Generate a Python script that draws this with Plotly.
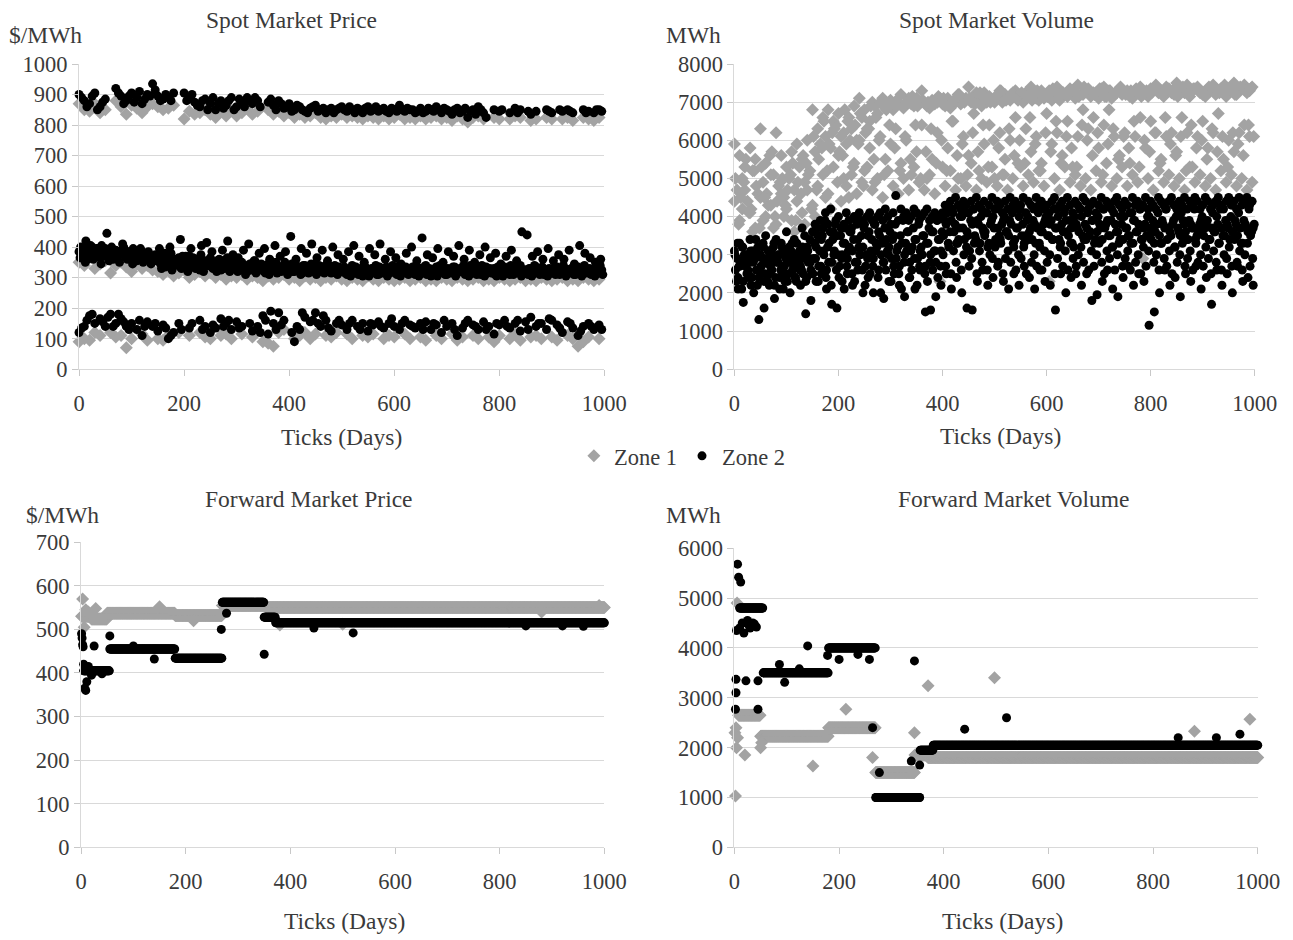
import plotly.graph_objects as go

W, H = 1293, 940
GRAY = "#a3a3a3"
BLACK = "#000000"
FONT = "Liberation Serif, Times New Roman, serif"
TXT = "#3a3a3a"
GRID = "#d9d9d9"

# ---------------- x grids (days) ----------------
X10 = list(range(0, 1000, 10))
X10B = list(range(5, 1000, 10))
X10C = list(range(3, 1000, 10))
X10D = list(range(7, 1000, 10))
X10E = list(range(2, 1000, 10))
X10F = list(range(8, 1000, 10))
X5 = list(range(0, 1000, 5))
X5B = list(range(2, 1000, 5))
X5C = list(range(4, 1000, 5))
X5D = list(range(1, 1000, 5))

# ---------------- Spot market price ----------------
SP_Z2_HIGH = [900, 880, 870, 905, 860, 885, None, 920, 895, 880,
              905, 890, 870, 900, 935, 895, 885, 890, 905, None,
              905, 890, 875, 860, 885, 870, 850, 880, 865, 890,
              860, 875, 890, 870, 880, None, 875, 865, 880, 855,
              870, 850, 860, 845, 855, 865, 850, 840, 855, 850,
              860, 845, 850, 855, 840, 860, 850, 845, 855, 840,
              850, 865, 845, 850, 840, 855, 845, 850, 860, 840,
              850, 835, 855, 845, 825, 850, 860, 840, None, 850,
              845, None, 840, 855, 850, None, 835, 845, None, 850,
              840, None, 845, 850, 840, None, 850, 845, 840, 850]
SP_Z2_HIGH_B = [890, 860, 895, 850, 875, None, None, 905, 870, 895,
                875, 910, 885, 895, 915, 880, 900, 880, None, None,
                880, 900, 865, 880, 850, 890, 870, 855, 880, 850,
                885, 860, 880, 890, 860, None, 885, 850, 870, 860,
                845, 865, 850, 840, 860, 845, 855, 850, 840, 855,
                850, 860, 840, 850, 855, 845, 860, 850, 845, 855,
                845, 850, 855, 850, 845, 840, 855, 845, 850, 855,
                845, 850, 840, 855, 845, 835, 850, 825, None, None,
                850, None, None, 840, None, 845, None, None, None, 845,
                None, 850, None, 845, None, None, 840, None, 850, 845]
SP_Z1_HIGH = [870, 850, 845, 870, 840, 850, None, 880, 860, 835,
              865, 855, 840, 860, 870, 860, 850, 855, 865, None,
              820, 845, 835, 840, 850, 835, 825, 845, 830, 850,
              830, 840, 855, 835, 845, None, 850, 835, 845, 830,
              840, 825, 835, 825, 830, 840, 825, 820, 830, 825,
              835, 825, 830, 825, 820, 830, 825, 820, 830, 820,
              825, 835, 820, 825, 820, 830, 820, 825, 830, 820,
              825, 815, 830, 820, 810, 825, 830, 820, None, 825,
              820, None, 820, 830, 825, None, 815, 820, None, 825,
              820, None, 820, 825, 815, None, 825, 820, 815, 825]
SP_Z2_MID = [385, 370, 395, 360, 380, 400, 375, 390, 365, 385,
             395, 370, 380, 360, 390, 375, 385, 400, 365, 380,
             370, 390, 355, 375, 385, 360, 380, 370, 355, 375,
             360, 345, 370, 335, 355, 380, 340, 350, 365, 330,
             355, 345, 370, 335, 350, 360, 325, 345, 355, 340,
             365, 330, 350, 340, 325, 355, 345, 335, 350, 330,
             340, 325, 350, 330, 320, 345, 335, 355, 325, 340,
             330, 315, 345, 335, 325, 350, 330, 320, 340, 335,
             325, 345, 320, 335, 330, 315, 340, 325, 335, 320,
             345, 330, 320, 335, 325, 340, 315, 330, 325, 335,
             320, 335, 310, 325, 340, 315, 330, 320, 305, 335,
             325, 315, 330, 340, 310, 325, 320, 335, 315, 330,
             325, 310, 340, 320, 330, 315, 325, 335, 310, 320,
             330, 315, 340, 325, 305, 320, 335, 315, 325, 330,
             310, 325, 320, 335, 315, 330, 320, 310, 325, 340,
             315, 320, 330, 310, 325, 335, 320, 315, 330, 305,
             325, 320, 335, 315, 310, 330, 325, 320, 340, 315,
             325, 310, 330, 320, 335, 315, 325, 310, 320, 330,
             315, 325, 335, 310, 320, 330, 315, 325, 320, 310,
             335, 320, 315, 330, 325, 310, 320, 335, 315, 325]
SP_Z2_MID_B = [400, 420, 380, 395, 405, 445, 390, 375, 410, 385,
               395, 360, 380, 370, 365, 395, 380, 400, 350, 425,
               370, 395, 360, 405, 415, 385, 355, 390, 420, 375,
               365, 390, 410, 355, 380, 395, 360, 405, 370, 385,
               435, 360, 395, 380, 410, 365, 390, 355, 400, 375,
               360, 385, 405, 370, 350, 395, 375, 410, 360, 385,
               365, 345, 380, 400, 355, 430, 375, 365, 395, 350,
               385, 370, 405, 360, 390, 350, 375, 400, 365, 380,
               345, 370, 390, 355, 450, 440, 370, 385, 360, 395,
               355, 375, 360, 390, 345, 405, 380, 365, 350, 360]
SP_Z2_MID_C = [365, 390, 350, 380, 405, 360, 375, 395, 345, 370,
               385, 355, 400, 365, 375, 350, 390, 370, 360, 385,
               345, 380, 365, 395, 350, 370, 385, 345, 365, 355,
               375, 330, 355, 365, 340, 325, 360, 345, 335, 370,
               340, 320, 350, 365, 330, 345, 375, 320, 340, 355,
               335, 350, 320, 360, 345, 330, 365, 320, 340, 350,
               320, 345, 330, 310, 340, 325, 350, 315, 335, 345,
               320, 340, 310, 330, 345, 315, 335, 325, 350, 310,
               335, 320, 345, 325, 310, 340, 330, 315, 345, 325,
               310, 340, 335, 315, 345, 320, 330, 340, 310, 320,
               330, 315, 325, 305, 320, 335, 310, 325, 340, 315,
               305, 330, 320, 310, 335, 315, 330, 305, 325, 340,
               315, 330, 305, 320, 335, 310, 325, 315, 340, 305,
               320, 335, 310, 330, 315, 325, 305, 340, 320, 310,
               330, 315, 335, 305, 325, 320, 340, 315, 305, 330,
               325, 310, 320, 340, 305, 315, 330, 325, 310, 335,
               320, 305, 315, 330, 340, 310, 320, 335, 305, 325,
               315, 330, 305, 340, 325, 310, 335, 320, 305, 315,
               330, 310, 320, 325, 340, 305, 315, 330, 310, 320,
               325, 305, 340, 315, 330, 320, 305, 325, 340, 310]
SP_Z1_MID = [350, 340, 365, 330, 345, 355, 315, 340, 350, 335,
             320, 345, 330, 340, 325, 320, 310, 330, 305, 315,
             325, 300, 310, 320, 305, 315, 300, 310, 295, 305,
             300, 310, 295, 305, 300, 290, 305, 295, 300, 310,
             295, 300, 290, 305, 295, 300, 290, 300, 295, 305,
             295, 290, 300, 295, 290, 305, 295, 290, 300, 295,
             290, 295, 300, 290, 295, 300, 290, 295, 290, 300,
             295, 290, 300, 295, 290, 295, 300, 290, 295, 290,
             300, 295, 290, 295, 300, 290, 295, 290, 300, 295,
             290, 295, 300, 290, 295, 290, 300, 295, 290, 295]
SP_Z2_LOW = [120, 140, 175, 150, 165, 140, 180, 150, 165, 140,
             150, 130, 110, 155, 140, 125, 145, 100, 120, 150,
             None, 135, None, 160, 140, 120, 135, 165, 150, 130,
             155, 140, None, 125, 140, 175, 115, 150, 185, 160,
             None, 90, 130, 170, 155, 185, 140, 160, 125, 150,
             145, 130, 160, 140, 150, 125, 145, 155, 135, 150,
             140, 130, 160, 145, 135, 150, 155, 130, 145, 120,
             140, 150, 110, 135, 160, 145, 130, 155, 140, 115,
             145, 160, 135, 150, 125, 155, 170, 140, 150, 130,
             160, 145, 120, 155, 135, 110, 140, 150, 130, 145]
SP_Z2_LOW_B = [135, 160, 180, None, 155, 170, 140, 180, 155, 130,
               None, 160, 140, None, 150, None, 135, 110, None, 130,
               None, 150, None, 130, None, 145, None, 140, 160, None,
               135, None, 150, None, 120, 160, 190, 130, 145, None,
               120, 140, 185, None, 160, 150, 175, 135, None, 160,
               None, 150, None, 130, None, 150, None, 140, None, 165,
               None, 150, None, 140, None, 130, None, 150, None, 160,
               None, 130, None, 150, None, 140, None, 130, None, 150,
               None, 140, None, 160, None, 130, None, 150, None, 165,
               None, 135, None, 150, None, 125, None, 140, None, 130]
SP_Z1_LOW = [90, 100, 95, 120, 110, None, 120, 105, 110, 70,
             100, None, 115, 95, None, 100, 95, 110, None, 120,
             None, 110, None, 120, 105, 100, None, 110, 115, 100,
             None, 115, None, 105, None, 90, 85, 75, 120, 130,
             None, 100, 110, 120, 100, 115, None, 110, 105, 120,
             None, 115, 100, None, 110, 105, 115, None, 100, 110,
             105, None, 115, 100, None, 105, 95, None, 110, 100,
             None, 115, 95, 105, None, 110, 100, None, 105, 90,
             110, None, 100, 115, 95, None, 105, 110, 100, None,
             105, 95, None, 110, 100, 75, 90, 105, None, 100]

# ---------------- Spot market volume ----------------
SV_Z1_A = [5900, 5600, 5300, 5800, 5500, 6300, 5400, 5100, 6200, 5600,
           5300, 5700, 5900, 5500, 6000, 6800, 6300, 6600, 6800, 6500,
           6700, 6200, 6600, 6900, 7100, 6800, 6500, 6900, 7000, 6850,
           7050, 6900, 7200, 7000, 6950, 7100, 7300, 6900, 7050, 7000,
           6950, 7100, 7000, 7200, 7050, 7400, 7100, 7000, 7250, 7150,
           7000, 7300, 7200, 7050, 7300, 7150, 7250, 7400, 7100, 7300,
           7200, 7050, 7400, 7250, 7150, 7300, 7450, 7200, 7350, 7250,
           7100, 7400, 7300, 7200, 7350, 7250, 7150, 7300, 7400, 7250,
           7350, 7450, 7300, 7400, 7250, 7500, 7350, 7450, 7300, 7400,
           7200, 7350, 7450, 7300, 7400, 7250, 7500, 7350, 7450, 7300]
SV_Z1_A2 = [4700, 5000, 4400, 5200, 4600, 4900, 4300, 5100, 4800, 4500,
            5000, 4700, 5300, 4900, 5200, 5700, 5900, 6100, 5800, 6400,
            6100, 5900, 6300, 6000, 6600, 6300, 7000, 6700, 7100, 6900,
            6800, 7000, 6850, 7100, 6900, 6950, 7000, 6850, 6950, 7100,
            6900, 6850, 7000, 6950, 7100, 7000, 7250, 6900, 7000, 7050,
            7150, 7000, 7100, 7250, 7050, 7000, 7150, 7200, 7050, 7100,
            7300, 7150, 7050, 7200, 7350, 7100, 7200, 7300, 7150, 7250,
            7350, 7150, 7100, 7250, 7200, 7300, 7100, 7250, 7200, 7150,
            7300, 7250, 7150, 7350, 7200, 7300, 7250, 7150, 7350, 7250,
            7150, 7300, 7200, 7350, 7150, 7300, 7200, 7350, 7250, 7400]
SV_Z1_B = [4400, 3900, 4700, 4100, 3700, 4500, 4000, 4300, 3800, 4600,
           4200, 3900, 4400, 4100, 4700, 4300, 4800, 5100, 4600, 5300,
           5600, 5000, 4500, 5400, 6000, 5200, 5800, 4900, 6100, 5500,
           5900, 6300, 5400, 6000, 5100, 5700, 6400, 5000, 5500, 6200,
           5300, 5800, 6500, 5000, 6100, 5600, 6700, 5200, 5900, 6400,
           5000, 6200, 5500, 6000, 6600, 5300, 6300, 5700, 6100, 5400,
           6700, 5900, 6200, 5600, 6500, 5300, 6100, 6800, 6300, 6600,
           5800, 6400, 6800, 6100, 5600, 6200, 5400, 6100, 6600, 5800,
           6500, 6200, 5500, 6100, 6200, 5700, 6600, 6200, 5300, 6100,
           6500, 5800, 6200, 6700, 5500, 6000, 5700, 6200, 6400, 6100]
SV_Z1_C = [None, 4200, None, 3600, None, 3900, None, 3700, None, 4000,
           None, 3600, None, 3800, None, 4000, None, 4500, 4200, 2700,
           4400, 4800, 5100, 4600, 4900, 5300, 4700, 5000, 4500, 5200,
           4800, 4600, 5000, 4700, 5300, 4900, 4700, 5100, 4600, 2300,
           4800, 5200, 4700, 5000, 4800, 5400, 4700, 5000, 4900, 5300,
           4800, 5100, 4700, 5000, 5400, 4800, 5100, 4900, 5200, 4800,
           2300, 5000, 4700, 5300, 4900, 5100, 4800, 5000, 4700, 5200,
           4900, 5400, 4800, 5000, 5300, 4800, 5100, 4900, 2900, 5000,
           4700, 5200, 4900, 5100, 4800, 5000, 4700, 5300, 4900, 5100,
           4800, 5000, 4700, 5200, 4900, 5100, 4800, 5000, 4700, 4900]
SV_Z1_D = [5000, 4500, 5500, 4200, 4800, 5300, 4600, 5700, 4400, 5000,
           4700, 5400, 4900, 5600, 5100, 6100, 5500, 6500, 5900, 6300,
           5700, 6800, 6000, 6400, 6700, 6200, 6900, 6600, 7000, 6800,
           6950, 7050, 6900, 7000, 7150, 6900, 7050, 7000, 6950, 7150,
           7100, 6950, 7050, 7200, 7000, 7100, 6950, 7250, 7100, 7000,
           7150, 7300, 7050, 7200, 7100, 7250, 7150, 7050, 7300, 7200,
           7150, 7350, 7100, 7250, 7200, 7300, 7150, 7400, 7250, 7200,
           7350, 7150, 7300, 7250, 7400, 7200, 7300, 7350, 7150, 7300,
           7250, 7400, 7200, 7350, 7300, 7150, 7400, 7250, 7350, 7300,
           7200, 7400, 7300, 7250, 7450, 7350, 7200, 7400, 7300, 7350]
SV_Z1_E = [3800, 4900, 4100, 5200, 3700, 4500, 5600, 4000, 4900, 4300,
           5100, 3900, 4600, 5400, 4200, 4700, 5800, 5200, 6200, 4900,
           5600, 6500, 5300, 5900, 4800, 6300, 5500, 6000, 5100, 6400,
           5800, 5200, 6100, 5500, 6400, 5000, 5700, 6300, 5400, 6000,
           5200, 6500, 5600, 5900, 5100, 6200, 5700, 6400, 5300, 6000,
           5800, 5100, 6300, 5600, 6000, 5400, 6600, 5900, 5200, 6200,
           5700, 6500, 5400, 6100, 5800, 5300, 6400, 6000, 5600, 6200,
           5100, 5900, 6300, 5500, 6100, 5800, 6500, 5300, 6000, 5700,
           6200, 5400, 6600, 5900, 5600, 6100, 5200, 6400, 5800, 6000,
           5500, 6300, 5700, 6100, 5300, 6200, 5900, 5600, 6400, 6100]
SV_Z2_A = [3100, 2900, 3300, 3200, 2800, 3000, 3400, 3100, 2900, 3200,
           3000, 3300, 3500, 3100, 2900, 3200, 3400, 3000, 3300, 3100,
           3600, 3200, 3000, 3400, 3300, 3100, 3700, 3500, 3200, 3400,
           3600, 3800, 3500, 3900, 3700, 4100, 3800, 4200, 3600, 3900,
           4000, 3700, 3800, 4100, 3900, 3700, 4000, 3800, 4100, 3900,
           3800, 4000, 4100, 3900, 3800, 4000, 4100, 3900, 4200, 4000,
           3800, 4100, 4550, 3900, 4200, 4000, 4100, 3900, 4000, 4200,
           4100, 3900, 4000, 4100, 4200, 3900, 4000, 4100, 3900, 4000,
           4100, 4300, 4200, 4400, 4100, 4500, 4300, 4200, 4400, 4300,
           4100, 4400, 4200, 4500, 4300, 4200, 4400, 4100, 4300, 4500,
           4200, 4400, 4300, 4100, 4400, 4200, 4500, 4300, 4400, 4200,
           4300, 4500, 4100, 4400, 4300, 4200, 4500, 4300, 4400, 4200,
           4300, 4100, 4400, 4500, 4200, 4300, 4400, 4200, 4500, 4300,
           4100, 4400, 4300, 4200, 4500, 4400, 4200, 4300, 4400, 4100,
           4300, 4500, 4200, 4400, 4300, 4200, 4400, 4500, 4300, 4200,
           4400, 4300, 4100, 4500, 4300, 4400, 4200, 4300, 4500, 4200,
           4400, 4300, 4200, 4500, 4400, 4300, 4200, 4400, 4500, 4300,
           4200, 4400, 4300, 4500, 4200, 4400, 4300, 4500, 4400, 4200,
           4300, 4500, 4400, 4200, 4300, 4400, 4500, 4300, 4200, 4400,
           4500, 4300, 4400, 4200, 4500, 4300, 4400, 4500, 4300, 4400]
SV_Z2_B = [2600, 2400, 2800, 2300, 2700, 2500, 2200, 2900, 2600, 2400,
           2700, 2300, 2800, 2500, 2600, 2200, 2900, 2400, 2700, 2500,
           2300, 2800, 2600, 2400, 2900, 2700, 2500, 2300, 2800, 2600,
           2900, 3200, 2700, 3400, 3000, 2600, 3300, 2800, 3100, 3500,
           2700, 3000, 3300, 2900, 3600, 3100, 2800, 3400, 3000, 3200,
           2700, 3500, 3100, 2900, 3300, 3600, 3000, 2800, 3400, 3200,
           2900, 3500, 3100, 2700, 3300, 3000, 3600, 2800, 3200, 3400,
           2900, 3100, 3500, 2700, 3300, 3000, 3600, 2800, 3400, 3100,
           3500, 3800, 3200, 3900, 3600, 3300, 3700, 4000, 3400, 3600,
           3100, 3800, 3500, 3900, 3300, 3700, 3600, 3200, 3800, 4000,
           3400, 3700, 3300, 3900, 3600, 3500, 3800, 3200, 3700, 4000,
           3500, 3300, 3900, 3600, 3400, 3800, 3700, 3200, 3600, 3900,
           3500, 3800, 3400, 3700, 4000, 3300, 3600, 3900, 3500, 3700,
           3200, 3800, 3600, 4000, 3400, 3700, 3500, 3900, 3300, 3600,
           3800, 3400, 3700, 3900, 3500, 3200, 3800, 3600, 4000, 3400,
           3700, 3500, 3300, 3900, 3600, 3800, 3400, 3700, 3500, 4000,
           3600, 3300, 3800, 3500, 3900, 3700, 3400, 3600, 3800, 3200,
           3700, 3500, 3900, 3600, 3400, 3800, 3700, 3300, 3600, 3900,
           3500, 3800, 3400, 3700, 3600, 4000, 3300, 3700, 3500, 3800,
           3400, 3600, 3900, 3500, 3700, 3300, 3800, 3600, 3500, 3700]
SV_Z2_C = [2100, 1750, 2400, 2000, 1300, 1600, 2200, 1850, 2100, 2300,
           2000, 2400, 2200, 1450, 1800, 2300, 2500, 2100, 1700, 1600,
           2300, 2500, 2200, 2600, 2000, 2400, 2000, 2600, 1850, 2300,
           2500, 2200, 1900, 2400, 2100, 2600, 1500, 1550, 1900, 2200,
           2500, 2100, 2400, 2000, 1600, 1550, 2300, 2600, 2200, 2400,
           2800, 2300, 2100, 2500, 2200, 2700, 2400, 2100, 2600, 2300,
           2200, 1550, 2500, 2000, 2400, 2700, 2200, 2500, 1800, 1950,
           2300, 2600, 2100, 1900, 2400, 2700, 2200, 2500, 2300, 1150,
           1500, 2000, 2600, 2200, 2400, 1900, 2500, 2300, 2700, 2100,
           2400, 1700, 2600, 2200, 2500, 2000, 2700, 2300, 2400, 2200]
SV_Z2_D = [2300, 2700, 2100, 3000, 2500, 2800, 2400, 3100, 2200, 2600,
           2900, 2500, 2300, 2700, 3000, 2400, 2800, 2600, 2100, 2900,
           2500, 3100, 2700, 2300, 2800, 2600, 3000, 2400, 2900, 2500,
           3300, 3700, 3100, 3500, 3900, 3200, 3600, 3400, 3800, 3000,
           3500, 3300, 3700, 3100, 3600, 3400, 3900, 3200, 3500, 3700,
           3000, 3600, 3400, 3800, 3200, 3500, 3300, 3700, 3100, 3600,
           3400, 3800, 3200, 3500, 3900, 3300, 3600, 3100, 3700, 3400,
           3800, 3200, 3500, 3300, 3700, 3600, 3100, 3900, 3400, 3600,
           3900, 4100, 3600, 4200, 3800, 3300, 4000, 3700, 4100, 3500,
           3900, 4200, 3400, 3800, 4000, 3600, 4100, 3300, 3900, 3700,
           4200, 3500, 3800, 4000, 3600, 3900, 4100, 3400, 3700, 4200,
           3800, 3500, 4000, 3700, 3900, 3300, 4100, 3600, 3800, 4000,
           3500, 3900, 4200, 3700, 3400, 3800, 4100, 3600, 3900, 3300,
           4000, 3700, 4200, 3500, 3800, 4100, 3600, 3900, 3400, 4000,
           3700, 4200, 3800, 3500, 3900, 4100, 3600, 3300, 3800, 4000,
           3700, 3500, 4100, 3900, 3600, 4200, 3400, 3800, 4000, 3700,
           3900, 3600, 4100, 3300, 3800, 4200, 3700, 3500, 3900, 4000,
           3600, 4100, 3800, 3400, 3900, 3700, 4200, 3500, 3800, 4000,
           3700, 3900, 3400, 4100, 3600, 3800, 4200, 3500, 3900, 3700,
           4000, 3600, 3800, 4100, 3300, 3900, 3700, 4200, 3600, 3800]
SV_Z2_E = [3000, 3300, 2700, 3200, 2900, 2600, 3100, 2800, 3400, 3000,
           2700, 3200, 2900, 3100, 2600, 3300, 2800, 3000, 3200, 2700,
           2900, 3100, 3300, 2800, 3000, 2600, 3200, 2900, 3100, 2800,
           2500, 2900, 2300, 2700, 3100, 2400, 2800, 2200, 3000, 2600,
           2400, 2900, 2100, 2700, 3200, 2500, 2300, 2800, 3000, 2600,
           2200, 2900, 2500, 2700, 3100, 2400, 2000, 2800, 2600, 3000,
           2300, 2700, 2900, 2500, 2100, 2800, 3100, 2400, 2600, 2900,
           2200, 2700, 3000, 2500, 2300, 2800, 2600, 3100, 2400, 2700,
           3000, 2700, 3300, 2500, 3100, 2800, 3400, 2600, 3000, 3200,
           2700, 2900, 3300, 2500, 3100, 2800, 3500, 2600, 3000, 2900,
           3200, 2700, 3400, 2500, 2900, 3100, 2800, 3300, 2600, 3000,
           2900, 3200, 2500, 3400, 2800, 3000, 2700, 3300, 2600, 3100,
           2800, 3000, 3400, 2500, 2900, 3200, 2700, 3100, 2600, 3300,
           2900, 2500, 3000, 3200, 2800, 3400, 2600, 3100, 2700, 3000,
           3300, 2800, 2500, 3100, 2900, 3200, 2600, 3000, 3400, 2700,
           2900, 3100, 2600, 3300, 2800, 3000, 2500, 3200, 2700, 3100,
           3400, 2800, 3000, 2600, 3300, 2900, 2700, 3100, 2500, 3200,
           2800, 3000, 3300, 2700, 2900, 3100, 2600, 3400, 2800, 3000,
           2700, 3200, 2900, 2500, 3100, 2800, 3300, 2600, 3000, 2900,
           3200, 2700, 3400, 2800, 3100, 2600, 3000, 3300, 2700, 2900]

# ---------------- Forward market price (plateaus: start day, end day, value) ----------------
FP_Z1_STEPS = [(1, 20, 530), (20, 50, 524), (50, 180, 537), (180, 270, 532),
               (270, 355, 555), (355, 1001, 550)]
FP_Z1_EXTRA = [(3, 570), (6, 505), (9, 545), (14, 540), (28, 548), (150, 552),
               (215, 520), (380, 510), (500, 512), (880, 540), (990, 555)]
FP_Z2_STEPS = [(5, 55, 405), (55, 180, 455), (180, 270, 434), (270, 350, 562),
               (350, 372, 528), (372, 1001, 515)]
FP_Z2_EXTRA = [(1, 490), (2, 480), (3, 465), (4, 460), (5, 420), (7, 365), (9, 360),
               (11, 380), (14, 415), (20, 395), (25, 462), (40, 398), (55, 485),
               (100, 462), (140, 432), (268, 500), (278, 537), (350, 443),
               (445, 503), (520, 492), (850, 508), (920, 508), (960, 507)]

# ---------------- Forward market volume ----------------
FV_Z1_STEPS = [(8, 50, 2650), (50, 180, 2230), (180, 270, 2400), (270, 345, 1500),
               (345, 370, 1850), (370, 1001, 1800)]
FV_Z1_EXTRA = [(1, 2300), (2, 1030), (3, 2400), (4, 2000), (5, 4900), (6, 2200),
               (20, 1850), (50, 2000), (52, 2100), (150, 1630), (213, 2770),
               (264, 1800), (344, 2300), (370, 3240), (497, 3400), (879, 2330),
               (985, 2570)]
FV_Z2_STEPS = [(10, 55, 4800), (55, 180, 3500), (180, 270, 4000), (270, 355, 1000),
               (355, 380, 1950), (380, 1001, 2050)]
FV_Z2_EXTRA = [(2, 2770), (3, 3100), (3, 3370), (4, 4350), (6, 5680), (8, 5420),
               (12, 5320), (10, 4400), (15, 4500), (18, 4300), (22, 3340),
               (25, 4550), (28, 4450), (30, 4400), (35, 4500), (38, 4480),
               (42, 4420), (45, 3340), (45, 2770), (86, 3670), (96, 3310),
               (124, 3580), (140, 4040), (178, 3850), (200, 3770), (236, 3870),
               (258, 3770), (264, 2400), (277, 1500), (338, 1730), (344, 3740),
               (354, 1650), (440, 2370), (520, 2600), (848, 2200), (921, 2200),
               (966, 2270)]


def pair(xs, ys):
    px, py = [], []
    for x, y in zip(xs, ys):
        if y is not None:
            px.append(x)
            py.append(y)
    return px, py


def steps(seg, extra):
    xs, ys = [], []
    for s, e, v in seg:
        for d in range(s, e):
            xs.append(d)
            ys.append(v)
    for d, v in extra:
        xs.append(d)
        ys.append(v)
    return xs, ys


fig = go.Figure()
legend_done = {"1": False, "2": False}


def add(xs, ys, zone, ax):
    show = not legend_done[zone]
    legend_done[zone] = True
    if zone == "1":
        marker = dict(symbol="diamond", size=10, color=GRAY, line=dict(width=0))
        name = "Zone 1"
    else:
        marker = dict(symbol="circle", size=9, color=BLACK, line=dict(width=0))
        name = "Zone 2"
    fig.add_trace(go.Scatter(
        x=xs, y=ys, mode="markers", marker=marker, name=name, legendgroup=zone,
        showlegend=show, cliponaxis=False, hoverinfo="skip",
        xaxis="x" if ax == 1 else f"x{ax}", yaxis="y" if ax == 1 else f"y{ax}"))


# Spot price (axis 1)
add(*pair(X10, SP_Z1_HIGH), "1", 1)
add(*pair(X10, SP_Z1_MID), "1", 1)
add(*pair(X10, SP_Z1_LOW), "1", 1)
add(*pair(X10, SP_Z2_HIGH), "2", 1)
add(*pair(X10B, SP_Z2_HIGH_B), "2", 1)
add(*pair(X5, SP_Z2_MID), "2", 1)
add(*pair(X5B, SP_Z2_MID_C), "2", 1)
add(*pair(X10C, SP_Z2_MID_B), "2", 1)
add(*pair(X10, SP_Z2_LOW), "2", 1)
add(*pair(X10B, SP_Z2_LOW_B), "2", 1)

# Spot volume (axis 2)
add(*pair(X10, SV_Z1_A), "1", 2)
add(*pair(X10B, SV_Z1_A2), "1", 2)
add(*pair(X10, SV_Z1_B), "1", 2)
add(*pair(X10B, SV_Z1_C), "1", 2)
add(*pair(X10E, SV_Z1_D), "1", 2)
add(*pair(X10F, SV_Z1_E), "1", 2)
add(*pair(X5, SV_Z2_A), "2", 2)
add(*pair(X5B, SV_Z2_B), "2", 2)
add(*pair(X10D, SV_Z2_C), "2", 2)
add(*pair(X5C, SV_Z2_D), "2", 2)
add(*pair(X5D, SV_Z2_E), "2", 2)

# Forward price (axis 3)
add(*steps(FP_Z1_STEPS, FP_Z1_EXTRA), "1", 3)
add(*steps(FP_Z2_STEPS, FP_Z2_EXTRA), "2", 3)

# Forward volume (axis 4)
add(*steps(FV_Z1_STEPS, FV_Z1_EXTRA), "1", 4)
add(*steps(FV_Z2_STEPS, FV_Z2_EXTRA), "2", 4)

# The captured page appears slightly shrunk and shifted; compensate so target
# pixel positions land where intended.
SX, SY, OX, OY = 0.977, 0.973, 7.0, 13.0


def fx(p):
    return ((p - OX) / SX) / W


def fy(p):
    return 1 - ((p - OY) / SY) / H


tickfont = dict(family=FONT, size=22.5, color=TXT)


def xaxis(x0, x1, anchor):
    return dict(domain=[fx(x0), fx(x1)], anchor=anchor, range=[0, 1000],
                tickvals=[0, 200, 400, 600, 800, 1000], showgrid=False, zeroline=False,
                showline=True, linecolor=GRID, linewidth=1, ticks="outside", ticklen=6,
                tickcolor="#c8c8c8", tickfont=tickfont, ticklabelstandoff=8, fixedrange=True)


def yaxis(y0, y1, anchor, top, step):
    vals = list(range(0, top + 1, step))
    return dict(domain=[fy(y1), fy(y0)], anchor=anchor, range=[0, top], tickvals=vals,
                showgrid=False, zeroline=False, showline=True, linecolor=GRID, linewidth=1,
                ticks="outside", ticklen=6, tickcolor="#c8c8c8", tickfont=tickfont,
                minor=dict(tickvals=vals[:-1], showgrid=True, gridcolor=GRID, gridwidth=1,
                           ticks=""), fixedrange=True)


layout = dict(
    width=W, height=H, margin=dict(l=0, r=0, t=0, b=0),
    paper_bgcolor="white", plot_bgcolor="white",
    font=dict(family=FONT, color=TXT, size=22.5),
    xaxis=xaxis(80, 605, "y"), yaxis=yaxis(65, 370, "x", 1000, 100),
    xaxis2=xaxis(735, 1255, "y2"), yaxis2=yaxis(65, 370, "x2", 8000, 1000),
    xaxis3=xaxis(82, 605, "y3"), yaxis3=yaxis(543, 848, "x3", 700, 100),
    xaxis4=xaxis(735, 1258, "y4"), yaxis4=yaxis(549, 848, "x4", 6000, 1000),
    legend=dict(orientation="h", x=fx(683), xanchor="center", y=fy(457), yanchor="middle",
                font=dict(family=FONT, size=22.5, color=TXT), itemwidth=30,
                bgcolor="rgba(0,0,0,0)"),
    hovermode=False,
)
fig.update_layout(**layout)

ann = []


def text(s, x, y, anchor="center", size=23.5):
    ann.append(dict(text=s, x=fx(x), y=fy(y), xref="paper", yref="paper",
                    xanchor=anchor, yanchor="middle", showarrow=False,
                    font=dict(family=FONT, size=size, color=TXT)))


text("Spot Market Price", 292, 21)
text("Spot Market Volume", 997, 21)
text("Forward Market Price", 310, 500)
text("Forward Market Volume", 1014, 500)
text("$/MWh", 8, 36, "left")
text("MWh", 665, 36, "left")
text("$/MWh", 25, 516, "left")
text("MWh", 665, 516, "left")
text("Ticks (Days)", 342, 438)
text("Ticks (Days)", 1001, 437)
text("Ticks (Days)", 345, 922)
text("Ticks (Days)", 1003, 922)
fig.update_layout(annotations=ann)

fig.write_html("out.html", config={"displayModeBar": False, "staticPlot": True},
               post_script="document.body.style.margin='0';document.body.style.overflow='hidden';")
